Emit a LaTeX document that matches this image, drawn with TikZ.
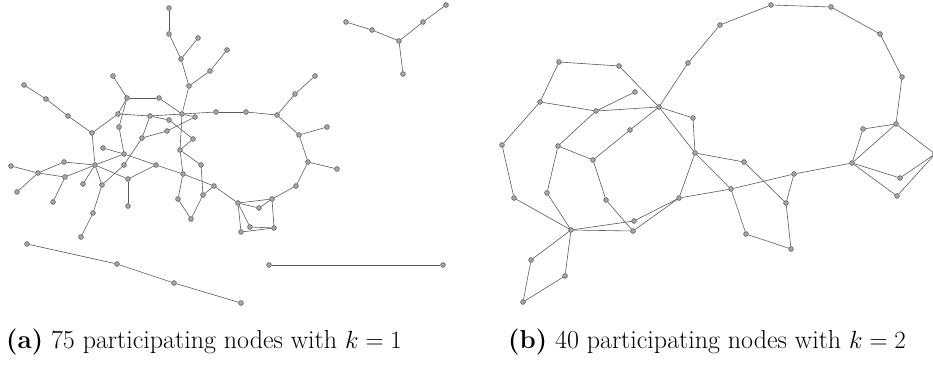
\documentclass[tikz,border=0pt]{standalone}
\begin{document}
\begin{tikzpicture}[x=1pt,y=-1pt,
  v/.style={circle,draw=black!70,fill=black!35,inner sep=0pt,minimum size=4.8pt,line width=0.5pt},
  e/.style={draw=black!65,line width=0.6pt},
  captext/.style={anchor=base west,inner sep=0pt,font=\fontsize{26}{31}\selectfont}]
\useasboundingbox (0,0) rectangle (933,374);
% left graph nodes
\foreach \n/\x/\y in {a1/169/8,a2/169/34,a3/198/38,a4/181/59,a5/227/50,a6/210/71,a7/189/86,
 a8/113/76,a9/127/98,a10/159/98,a11/118/114,a12/119/127,a13/142/138,a14/150/116,a15/182/114,
 a16/169/120,a17/195/117,a18/216/112,a19/246/112,a20/277/115,a21/295/94,a22/315/76,a23/299/135,
 a24/327/127,a25/167/131,a26/193/139,a27/180/150,a28/103/148,a29/124/154,a30/124/165,a31/95/165,
 a32/92/133,a33/68/116,a34/46/99,a35/24/85,a36/64/162,a37/65/177,a38/38/173,a39/11/166,a40/17/192,
 a41/53/202,a42/83/184,a43/102/185,a44/93/213,a45/81/237,a46/128/179,a47/128/206,a48/156/165,
 a49/201/165,a50/183/174,a51/214/186,a52/203/195,a53/178/199,a54/191/219,a55/238/203,a56/259/208,
 a57/272/199,a58/296/186,a59/250/227,a60/274/228,a61/241/232,a62/308/162,a63/337/169,a64/269/265,
 a65/443/265,a66/27/244,a67/117/264,a68/174/283,a69/241/303,a70/346/22,a71/372/30,a72/399/41,
 a73/423/22,a74/446/5,a75/403/74}
  \node[v] (\n) at (\x,\y) {};
% right graph nodes
\foreach \n/\x/\y in {b1/559/62,b2/619/66,b3/540/102,b4/596/111,b5/635/92,b6/630/130,b7/502/145,
 b8/558/146,b9/771/5,b10/720/25,b11/688/63,b12/659/107,b13/693/118,b14/695/153,b15/831/7,
 b16/880/34,b17/902/77,b18/896/124,b19/863/129,b20/514/198,b21/547/193,b22/593/160,b23/606/200,
 b24/634/221,b25/633/231,b26/571/230,b27/531/260,b28/565/276,b29/523/302,b30/744/162,b31/731/189,
 b32/679/198,b33/746/234,b34/786/203,b35/852/163,b36/794/174,b37/791/249,b38/900/178,b39/897/196,
 b40/935/154}
  \node[v] (\n) at (\x,\y) {};
% left graph edges
\foreach \p/\q in {a1/a2,a2/a4,a3/a4,a4/a7,a5/a6,a6/a7,a7/a15,
 a8/a9,a9/a10,a10/a15,a9/a11,a9/a12,a11/a32,a11/a14,
 a35/a34,a34/a33,a33/a32,a32/a31,
 a14/a15,a14/a13,a14/a16,a16/a26,a15/a17,
 a13/a25,a13/a30,a25/a17,
 a15/a18,a18/a19,a19/a20,a20/a21,a21/a22,a20/a23,a23/a24,a23/a62,a62/a63,a62/a58,
 a15/a27,a26/a27,a27/a49,a27/a50,
 a12/a29,a28/a29,a29/a31,a29/a48,
 a31/a36,a31/a37,a31/a42,a31/a43,a31/a46,a36/a38,a37/a38,a38/a39,a38/a40,a37/a41,
 a43/a44,a44/a45,a43/a30,a46/a47,a46/a48,
 a48/a50,a50/a51,a50/a53,a53/a54,a54/a52,a52/a49,a52/a51,a51/a55,
 a55/a56,a55/a57,a56/a57,a55/a59,a55/a61,a59/a60,a61/a60,a57/a60,a57/a58,
 a64/a65,a66/a67,a67/a68,a68/a69,a70/a71,a71/a72,a72/a73,a73/a74,a72/a75}
  \draw[e] (\p) -- (\q);
% right graph edges
\foreach \p/\q in {b1/b2,b1/b3,b2/b12,b3/b4,b3/b7,b4/b5,b4/b12,b4/b8,b6/b12,b6/b22,b8/b22,b8/b21,
 b7/b20,b20/b26,b21/b26,b22/b23,b23/b25,b26/b24,b26/b25,b26/b27,b27/b29,b29/b28,b28/b26,
 b24/b32,b25/b32,b12/b11,b11/b10,b10/b9,b9/b15,b15/b16,b16/b17,b17/b18,b18/b19,b18/b40,
 b18/b35,b19/b35,b12/b13,b12/b14,b13/b14,b14/b30,b14/b31,b14/b32,b30/b34,b31/b33,b33/b37,
 b32/b31,b31/b36,b36/b34,b34/b37,b36/b35,b35/b38,b35/b39,b38/b40,b39/b40}
  \draw[e] (\p) -- (\q);
% captions
\node[captext] (capa) at (6,348) {\textbf{(a)} 75 participating nodes with $k=1$};
\node[captext] (capb) at (508,348) {\textbf{(b)} 40 participating nodes with $k=2$};
\end{tikzpicture}
\end{document}
